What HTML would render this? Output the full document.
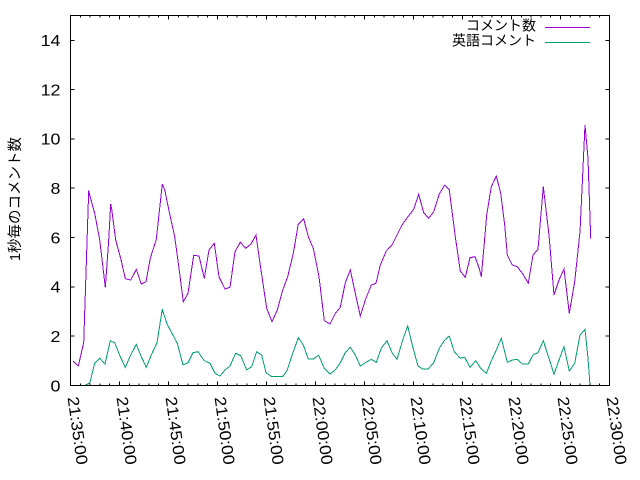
<!DOCTYPE html>
<html><head><meta charset="utf-8"><style>
html,body{margin:0;padding:0;background:#fff;}
svg{display:block;}
text{font-family:"Liberation Sans","Noto Sans CJK JP",sans-serif;fill:#000;}
</style></head><body>
<svg width="640" height="480" viewBox="0 0 640 480" xmlns="http://www.w3.org/2000/svg">
<rect width="640" height="480" fill="#fff"/>
<!-- data -->
<polyline fill="none" stroke="#9400d3" stroke-width="1" shape-rendering="crispEdges" points="73,361 78.3,366 83.7,342.7 88.7,190.7 89.7,195 94.7,213.3 99.7,240 102.7,265 105.3,287.3 106,278.3 108.7,240 110.7,204 111.7,209.3 115.7,240 120.7,258.3 125.3,278.7 130.7,280 136.3,269.3 141.3,284 146,281.7 150.3,258.3 156.3,239.3 162.3,184 164.7,190 168.7,209.3 174.7,236.7 179,268.3 183.3,301.7 188,293.3 193.7,255.3 199,256 204.3,278.3 209,250 214.3,243.3 219,276.7 225,289 230,287.3 235,251.7 240.3,242.3 245.7,248.3 251,244 256,235 261,270 266.7,308.3 272,321.7 277.3,310 282.7,290 287.7,276.7 293.3,253.3 298.3,224 303.7,218.7 308.3,236.7 313.3,248.3 319,276.7 324.3,320.7 330,324 335.3,313.3 340.3,307.3 345.3,282.7 350.3,270 355.3,293.3 360.3,316 365.3,300 371.3,285 376,283.3 380.3,265 386.3,251 392,245 397,235 402,225 408,216.7 413.7,209.3 418.7,194.3 423.7,212.7 428.7,218.3 433.7,211.7 439.3,194 444.7,185 449.3,190 455.3,236.7 460.3,271 465.3,277.3 470,257.7 475,256.7 479,267.7 481.3,276.7 484.7,238.3 486.7,215 491.3,186.7 496.3,176 500.7,193.3 504.7,225 507.3,255 512.3,265 517.3,266.7 522.3,273.3 528.3,283.3 533,255 538,249.3 543.3,186.7 549,235 554,295 559,280 564,269 569.3,313.3 574.7,281.7 580,231.7 585,125 588,158.3 590.7,238.3"/>
<polyline fill="none" stroke="#009e73" stroke-width="1" shape-rendering="crispEdges" points="73,385.5 84.7,385.5 89.7,383 94.7,363.3 99.7,358.3 105,364 110.3,340.7 114.7,342.7 120.3,356.7 125.3,367.3 130.7,355 136.3,344.3 141.3,356.7 146.3,367.3 151.3,355 157,342.7 162.3,309.3 167,324 172,333.3 177.3,343.3 183,365 188,362.7 193,352.7 198,351.7 204.3,360.7 210,363.3 215,373.3 220,376 225,370 230,366 235.7,353.3 240.7,355.7 246.7,370 251.7,366.7 256.7,351.7 261.7,355 266,372.7 271.7,376.7 282.7,376.7 287.3,370 292.7,353.3 298.3,337.7 303.3,345 308.3,359 313.3,359 318.7,355.3 324.3,368.3 330,374 335.3,370 340.3,362.7 345.3,352.7 350.3,347.3 355.3,355 360.3,366 365.3,362.7 371.3,359.3 376.3,362.3 381.3,348.3 387,340.7 392,352.7 397,359.3 402.7,340 407.7,326 412.7,346.7 418,366 422.7,369 428,369 433.7,362.7 439.3,348.3 444.7,340 449.3,336 454.3,351.7 460.3,358.3 464.7,357.3 470,367.3 475.7,360.7 480.7,368.3 486.3,373.3 491.3,361 496.3,350 501.3,338.3 507.3,362.3 512.3,360 517.3,359.3 522.3,364 528.3,364 533,355 538,352.7 543.3,340.7 549,358.3 554,374.3 559,360 564,346.7 569.3,371 574.7,363.3 580,335 585,329.3 588,358.3 590,385"/>
<!-- frame -->
<rect x="70.5" y="15.5" width="539" height="370" fill="none" stroke="#000" stroke-width="1" shape-rendering="crispEdges"/>
<!-- y tick labels -->
<g font-size="16" text-anchor="end">
<text transform="translate(60.5,391.3) scale(1.12,1)">0</text>
<text transform="translate(60.5,342.0) scale(1.12,1)">2</text>
<text transform="translate(60.5,292.7) scale(1.12,1)">4</text>
<text transform="translate(60.5,243.3) scale(1.12,1)">6</text>
<text transform="translate(60.5,194.0) scale(1.12,1)">8</text>
<text transform="translate(60.5,144.7) scale(1.12,1)">10</text>
<text transform="translate(60.5,95.4) scale(1.12,1)">12</text>
<text transform="translate(60.5,46.1) scale(1.12,1)">14</text>
</g>
<!-- x tick labels -->
<g font-size="16">
<text transform="translate(67.5,397.5) rotate(82) scale(1.1,1)">21:35:00</text>
<text transform="translate(116.5,397.5) rotate(82) scale(1.1,1)">21:40:00</text>
<text transform="translate(165.5,397.5) rotate(82) scale(1.1,1)">21:45:00</text>
<text transform="translate(214.5,397.5) rotate(82) scale(1.1,1)">21:50:00</text>
<text transform="translate(263.5,397.5) rotate(82) scale(1.1,1)">21:55:00</text>
<text transform="translate(312.5,397.5) rotate(82) scale(1.1,1)">22:00:00</text>
<text transform="translate(361.5,397.5) rotate(82) scale(1.1,1)">22:05:00</text>
<text transform="translate(410.5,397.5) rotate(82) scale(1.1,1)">22:10:00</text>
<text transform="translate(459.5,397.5) rotate(82) scale(1.1,1)">22:15:00</text>
<text transform="translate(508.5,397.5) rotate(82) scale(1.1,1)">22:20:00</text>
<text transform="translate(557.5,397.5) rotate(82) scale(1.1,1)">22:25:00</text>
<text transform="translate(606.5,397.5) rotate(82) scale(1.1,1)">22:30:00</text>
</g>
<!-- y axis label -->
<text transform="translate(20,199) rotate(-90)" font-size="14.5" text-anchor="middle">1秒毎のコメント数</text>
<!-- legend -->
<g font-size="14" text-anchor="end">
<text x="536" y="30.5">コメント数</text>
<text x="536" y="45.5">英語コメント</text>
</g>
<line x1="545" y1="27.5" x2="590" y2="27.5" stroke="#9400d3" stroke-width="1" shape-rendering="crispEdges"/>
<line x1="545" y1="42.5" x2="590" y2="42.5" stroke="#009e73" stroke-width="1" shape-rendering="crispEdges"/>
<!-- ticks -->
<g stroke="#000" stroke-width="1" shape-rendering="crispEdges">
<path d="M70.5,336.2h4M70.5,286.9h4M70.5,237.5h4M70.5,188.2h4M70.5,138.9h4M70.5,89.6h4M70.5,40.3h4"/>
<path d="M609.5,336.2h-4M609.5,286.9h-4M609.5,237.5h-4M609.5,188.2h-4M609.5,138.9h-4M609.5,89.6h-4M609.5,40.3h-4"/>
<path d="M119.5,385.5v-4M168.5,385.5v-4M217.5,385.5v-4M266.5,385.5v-4M315.5,385.5v-4M364.5,385.5v-4M413.5,385.5v-4M462.5,385.5v-4M511.5,385.5v-4M560.5,385.5v-4"/>
<path d="M119.5,15.5v4M168.5,15.5v4M217.5,15.5v4M266.5,15.5v4M315.5,15.5v4M364.5,15.5v4M413.5,15.5v4M462.5,15.5v4M511.5,15.5v4M560.5,15.5v4"/>
<path d="M80.3,385.5v-2M90.1,385.5v-2M99.9,385.5v-2M109.7,385.5v-2M129.3,385.5v-2M139.1,385.5v-2M148.9,385.5v-2M158.7,385.5v-2M178.3,385.5v-2M188.1,385.5v-2M197.9,385.5v-2M207.7,385.5v-2M227.3,385.5v-2M237.1,385.5v-2M246.9,385.5v-2M256.7,385.5v-2M276.3,385.5v-2M286.1,385.5v-2M295.9,385.5v-2M305.7,385.5v-2M325.3,385.5v-2M335.1,385.5v-2M344.9,385.5v-2M354.7,385.5v-2M374.3,385.5v-2M384.1,385.5v-2M393.9,385.5v-2M403.7,385.5v-2M423.3,385.5v-2M433.1,385.5v-2M442.9,385.5v-2M452.7,385.5v-2M472.3,385.5v-2M482.1,385.5v-2M491.9,385.5v-2M501.7,385.5v-2M521.3,385.5v-2M531.1,385.5v-2M540.9,385.5v-2M550.7,385.5v-2M570.3,385.5v-2M580.1,385.5v-2M589.9,385.5v-2M599.7,385.5v-2"/>
<path d="M80.3,15.5v2M90.1,15.5v2M99.9,15.5v2M109.7,15.5v2M129.3,15.5v2M139.1,15.5v2M148.9,15.5v2M158.7,15.5v2M178.3,15.5v2M188.1,15.5v2M197.9,15.5v2M207.7,15.5v2M227.3,15.5v2M237.1,15.5v2M246.9,15.5v2M256.7,15.5v2M276.3,15.5v2M286.1,15.5v2M295.9,15.5v2M305.7,15.5v2M325.3,15.5v2M335.1,15.5v2M344.9,15.5v2M354.7,15.5v2M374.3,15.5v2M384.1,15.5v2M393.9,15.5v2M403.7,15.5v2M423.3,15.5v2M433.1,15.5v2M442.9,15.5v2M452.7,15.5v2M472.3,15.5v2M482.1,15.5v2M491.9,15.5v2M501.7,15.5v2M521.3,15.5v2M531.1,15.5v2M540.9,15.5v2M550.7,15.5v2M570.3,15.5v2M580.1,15.5v2M589.9,15.5v2M599.7,15.5v2"/>
</g>
</svg>
</body></html>
